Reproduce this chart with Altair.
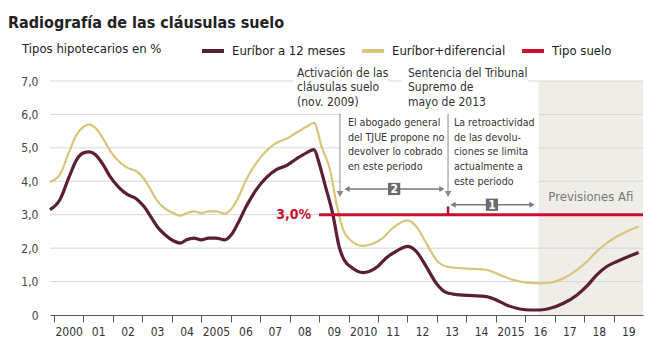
import altair as alt
import pandas as pd

FONT = "Liberation Sans Narrow, Arial Narrow, DejaVu Sans Condensed, sans-serif"

# ---------------- data ----------------
title_text = "Radiografía de las cláusulas suelo"
legend_title = "Tipos hipotecarios en %"
series_names = ["Euríbor a 12 meses", "Euríbor+diferencial", "Tipo suelo"]
series_colors = ["#5a1f33", "#d8c47a", "#c8102e"]

years_e12 = [1999.86, 2000.2, 2000.5, 2000.77, 2001.0, 2001.2, 2001.4, 2001.65, 2001.9, 2002.2,
             2002.5, 2002.8, 2003.05, 2003.3, 2003.5, 2003.77, 2004.05, 2004.3, 2004.5, 2004.75,
             2005.0, 2005.25, 2005.5, 2005.8, 2006.02, 2006.25, 2006.53, 2006.87, 2007.2, 2007.55,
             2007.89, 2008.23, 2008.57, 2008.83, 2009.0, 2009.2, 2009.47, 2009.68, 2009.85, 2010.14,
             2010.48, 2010.7, 2010.99, 2011.27, 2011.61, 2012.01, 2012.3, 2012.64, 2012.98, 2013.32,
             2013.77, 2014.23, 2014.68, 2015.02, 2015.36, 2015.82, 2016.17, 2016.51, 2016.85, 2017.3,
             2017.76, 2018.1, 2018.43, 2018.77, 2019.11, 2019.45, 2019.85]
euribor_12 = [3.15, 3.45, 4.1, 4.65, 4.85, 4.88, 4.8, 4.52, 4.15, 3.82,
              3.6, 3.47, 3.25, 2.92, 2.65, 2.4, 2.22, 2.15, 2.25, 2.3,
              2.25, 2.3, 2.3, 2.25, 2.4, 2.75, 3.25, 3.75, 4.1, 4.35,
              4.47, 4.67, 4.85, 4.95, 4.55, 3.9, 3.0, 2.05, 1.65, 1.4,
              1.27, 1.3, 1.45, 1.7, 1.9, 2.05, 1.9, 1.45, 0.95, 0.67,
              0.6, 0.58, 0.55, 0.45, 0.3, 0.18, 0.15, 0.15, 0.2, 0.35,
              0.6, 0.87, 1.2, 1.45, 1.6, 1.73, 1.87]

years_dif = [1999.86, 2000.2, 2000.5, 2000.77, 2001.0, 2001.2, 2001.4, 2001.65, 2001.9, 2002.2,
             2002.5, 2002.8, 2003.05, 2003.3, 2003.5, 2003.77, 2004.05, 2004.3, 2004.5, 2004.75,
             2005.0, 2005.25, 2005.5, 2005.8, 2006.02, 2006.25, 2006.53, 2006.87, 2007.2, 2007.55,
             2007.89, 2008.23, 2008.57, 2008.83, 2009.1, 2009.37, 2009.6, 2009.82, 2010.05, 2010.48,
             2010.82, 2011.16, 2011.5, 2012.01, 2012.3, 2012.64, 2012.98, 2013.32, 2013.77, 2014.23,
             2014.68, 2015.14, 2015.59, 2016.05, 2016.5, 2016.85, 2017.3, 2017.76, 2018.1, 2018.43,
             2018.77, 2019.11, 2019.45, 2019.85]
euribor_dif = [3.98, 4.2, 4.85, 5.4, 5.63, 5.7, 5.6, 5.3, 4.92, 4.6,
               4.4, 4.3, 4.08, 3.72, 3.42, 3.18, 3.05, 2.97, 3.05, 3.1,
               3.05, 3.1, 3.1, 3.03, 3.17, 3.5, 4.05, 4.55, 4.9, 5.15,
               5.27, 5.45, 5.63, 5.75, 5.0, 4.35, 3.3, 2.55, 2.25, 2.07,
               2.13, 2.3, 2.6, 2.83, 2.65, 2.15, 1.65, 1.45, 1.4, 1.38,
               1.35, 1.2, 1.05, 0.97, 0.95, 0.97, 1.1, 1.35, 1.6, 1.9,
               2.15, 2.35, 2.5, 2.65]

years_suelo = [2009.0, 2020.0]
tipo_suelo = [3.0, 3.0]

x_ticks = list(range(2000, 2020))
y_ticks = [0, 1, 2, 3, 4, 5, 6, 7]

forecast_start, forecast_end = 2016.45, 2020.0
forecast_label = "Previsiones Afi"
suelo_label = "3,0%"

header_texts = ["Activación de las\ncláusulas suelo\n(nov. 2009)",
                "Sentencia del Tribunal\nSupremo de\nmayo de 2013"]
header_x = [2008.25, 2012.02]
body_texts = ["El abogado general\ndel TJUE propone no\ndevolver lo cobrado\nen este periodo",
              "La retroactividad\nde las devolu-\nciones se limita\nactualmente a\neste periodo"]
body_x = [2009.98, 2013.58]

# white knock-out boxes behind annotation texts (year / value units)
box_x1 = [2008.12, 2011.82, 2009.72]
box_x2 = [2011.34, 2016.10, 2016.45]
box_y1 = [6.30, 6.30, 3.10]
box_y2 = [7.60, 7.60, 6.08]

leader_x = [2009.71, 2013.38]
period_x1 = [2009.95, 2013.55]
period_x2 = [2013.17, 2016.23]
period_y = [3.77, 3.30]
period_mid = [2011.55, 2014.87]
period_num = ["2", "1"]
sentencia_year = 2013.38

# ---------------- helpers ----------------
x_scale = alt.Scale(domain=[1999.864, 2020.0], nice=False, zero=False)
y_scale = alt.Scale(domain=[0, 7], nice=False, zero=True)

x_axis = alt.Axis(
    values=x_ticks, title=None, grid=False, zindex=1,
    labelExpr="datum.value % 5 == 0 ? '' + datum.value : (datum.value % 100 < 10 ? '0' + (datum.value % 100) : '' + (datum.value % 100))",
    labelOffset=14.7, labelPadding=4, labelFont=FONT, labelFontSize=12, labelColor="#333",
    tickSize=7, tickColor="#555", tickWidth=1, domainColor="#555", domainWidth=1,
)
y_axis = alt.Axis(
    values=y_ticks, title=None, grid=False, domain=False, ticks=False,
    labelExpr="datum.value == 0 ? '0' : replace(format(datum.value, '.1f'), '.', ',')",
    labelPadding=12, labelFont=FONT, labelFontSize=12, labelColor="#444",
)


def X(f):
    return alt.X(f, type="quantitative", scale=x_scale, axis=x_axis)


def Y(f):
    return alt.Y(f, type="quantitative", scale=y_scale, axis=y_axis)


legend = alt.Legend(
    title=legend_title, orient="none", legendX=-28, legendY=-43, direction="horizontal",
    titleOrient="left", titleFont=FONT, titleFontSize=13, titleFontWeight="normal",
    titleColor="#222", titlePadding=38, titleBaseline="middle",
    labelFont=FONT, labelFontSize=13, labelColor="#222", labelOffset=6,
    symbolType="stroke", symbolStrokeWidth=4, symbolSize=484, columnPadding=8,
)
color = alt.Color("series:N", scale=alt.Scale(domain=series_names, range=series_colors), legend=legend)

# ---------------- tables ----------------
df_e12 = pd.DataFrame({"year": years_e12, "value": euribor_12, "series": series_names[0]})
df_dif = pd.DataFrame({"year": years_dif, "value": euribor_dif, "series": series_names[1]})
df_suelo = pd.DataFrame({"year": years_suelo, "value": tipo_suelo, "series": series_names[2]})
df_shade = pd.DataFrame({"x1": [forecast_start], "x2": [forecast_end], "y1": [0], "y2": [7]})
df_grid = pd.DataFrame({"v": y_ticks[1:]})
df_boxes = pd.DataFrame({"x1": box_x1, "x2": box_x2, "y1": box_y1, "y2": box_y2})
df_lead = pd.DataFrame({"x": leader_x, "top": [6.02, 6.02], "bot": [3.62, 3.62]})
df_per = pd.DataFrame({"x1": period_x1, "x2": period_x2, "y": period_y, "mid": period_mid, "n": period_num})
df_head = pd.DataFrame({"x": header_x, "y": [7.40, 7.40], "t": header_texts})
df_body = pd.DataFrame({"x": body_x, "y": [5.90, 5.90], "t": body_texts})

# ---------------- layers ----------------
shade = alt.Chart(df_shade).mark_rect(color="#eeede7").encode(
    x=X("x1"), x2="x2", y=Y("y1"), y2="y2")

grid = alt.Chart(df_grid).mark_rule(color="#d6d6d6", strokeWidth=1).encode(y=Y("v"))

boxes = alt.Chart(df_boxes).mark_rect(color="white").encode(
    x=X("x1"), x2="x2", y=Y("y1"), y2="y2")

line_dif = alt.Chart(df_dif).mark_line(strokeWidth=2.2, interpolate="monotone").encode(
    x=X("year"), y=Y("value"), color=color)
line_e12 = alt.Chart(df_e12).mark_line(strokeWidth=3.2, interpolate="monotone").encode(
    x=X("year"), y=Y("value"), color=color)
line_suelo = alt.Chart(df_suelo).mark_line(strokeWidth=3).encode(
    x=X("year"), y=Y("value"), color=color)

sent_tick = alt.Chart(pd.DataFrame({"x": [sentencia_year], "y1": [3.0], "y2": [3.25]})).mark_rule(
    color="#c8102e", strokeWidth=2.5).encode(x=X("x"), y=Y("y1"), y2="y2")

lead = alt.Chart(df_lead).mark_rule(color="#8a8a8a", strokeWidth=1).encode(
    x=X("x"), y=Y("top"), y2="bot")
lead_head = alt.Chart(df_lead).mark_point(shape="triangle-down", filled=True, size=45,
                                          color="#8a8a8a", opacity=1).encode(
    x=X("x"), y=Y("bot"))

per_line = alt.Chart(df_per).mark_rule(color="#7a7a7a", strokeWidth=1.5).encode(
    x=X("x1"), x2="x2", y=Y("y"))
per_left = alt.Chart(df_per).mark_point(shape="triangle-left", filled=True, size=35,
                                        color="#7a7a7a", opacity=1).encode(x=X("x1"), y=Y("y"))
per_right = alt.Chart(df_per).mark_point(shape="triangle-right", filled=True, size=35,
                                         color="#7a7a7a", opacity=1).encode(x=X("x2"), y=Y("y"))
per_box = alt.Chart(df_per).mark_point(shape="square", filled=True, size=150,
                                       color="#6b6b6b", opacity=1).encode(x=X("mid"), y=Y("y"))
per_num = alt.Chart(df_per).mark_text(font=FONT, fontSize=12, fontWeight="bold", color="white",
                                      align="center", baseline="middle").encode(
    x=X("mid"), y=Y("y"), text="n:N")

head_txt = alt.Chart(df_head).mark_text(font=FONT, fontSize=12, color="#333", align="left",
                                        baseline="top", lineBreak="\n", lineHeight=14.8).encode(
    x=X("x"), y=Y("y"), text="t:N")
body_txt = alt.Chart(df_body).mark_text(font=FONT, fontSize=10.6, color="#333", align="left",
                                        baseline="top", lineBreak="\n", lineHeight=14.8).encode(
    x=X("x"), y=Y("y"), text="t:N")

suelo_txt = alt.Chart(pd.DataFrame({"x": [2008.73], "y": [3.0], "t": [suelo_label]})).mark_text(
    font=FONT, fontSize=14, fontWeight="bold", color="#c8102e", align="right", baseline="middle").encode(
    x=X("x"), y=Y("y"), text="t:N")

fore_txt = alt.Chart(pd.DataFrame({"x": [2018.23], "y": [3.53], "t": [forecast_label]})).mark_text(
    font=FONT, fontSize=13, color="#777", align="center", baseline="middle").encode(
    x=X("x"), y=Y("y"), text="t:N")

title_mark = alt.Chart(pd.DataFrame({"t": [title_text]})).mark_text(
    font=FONT, fontSize=16, fontWeight="bold", color="#222", align="left", baseline="alphabetic").encode(
    x=alt.value(-42), y=alt.value(-53), text="t:N")

chart = alt.layer(
    shade, grid, boxes, line_dif, line_e12, line_suelo, sent_tick,
    lead, lead_head, per_line, per_left, per_right, per_box, per_num,
    head_txt, body_txt, suelo_txt, fore_txt, title_mark,
).properties(
    width=593, height=234,
    autosize=alt.AutoSizeParams(type="none"),
    padding={"left": 50, "top": 81, "right": 21, "bottom": 38},
    background="white",
).configure_view(stroke=None)

chart.save("out.html", embed_options={"renderer": "svg", "actions": False})
